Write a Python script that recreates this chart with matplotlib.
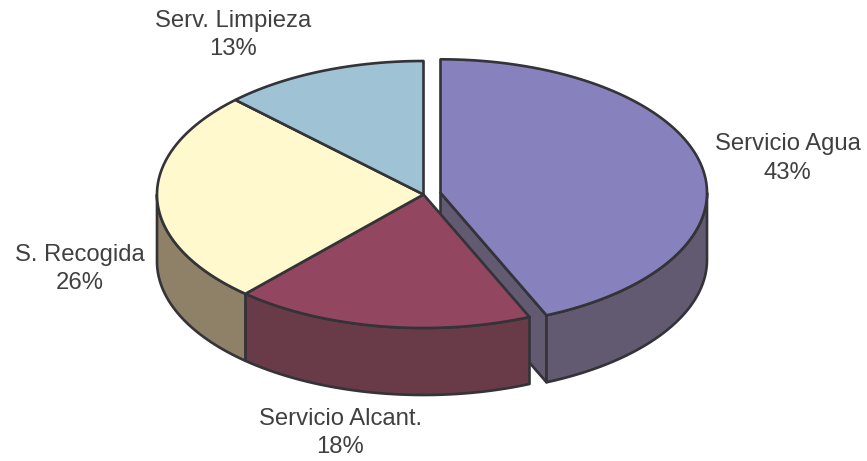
import numpy as np
import matplotlib
matplotlib.use('Agg')
import matplotlib.pyplot as plt
from matplotlib.patches import Polygon

categories = ['Servicio Agua', 'Servicio Alcant.', 'S. Recogida', 'Serv. Limpieza']
percent_labels = ['43%', '18%', '26%', '13%']
values = [43.49, 18.16, 25.88, 12.47]
explode = [17, 0, 0, 0]
top_colours = ['#8781BD', '#924660', '#FFF9CD', '#9FC3D4']
side_colours = ['#625A70', '#693A48', '#8F8068', '#6F8894']
label_pos = [(787.5, 158.5), (340.5, 433), (79.5, 269), (233, 35)]

plt.rcParams['font.family'] = ['Liberation Sans', 'DejaVu Sans']

cx, cy = 423.5, 194.5
rx, ry = 266.5, 133.5
depth = 67
edge = '#333338'
lw = 1.9


def rim(c, t0, t1, dy=0):
    t = np.radians(np.linspace(t0, t1, 200))
    return np.column_stack([c[0] + rx * np.sin(t), c[1] - ry * np.cos(t) + dy])


def poly(ax, pts, colour, z):
    ax.add_patch(Polygon(pts, closed=True, facecolor=colour, edgecolor=edge,
                         linewidth=lw, joinstyle='round', zorder=z))


fig = plt.figure(figsize=(8.67, 4.61), dpi=100)
ax = fig.add_axes([0, 0, 1, 1])
ax.set_xlim(0, 867)
ax.set_ylim(461, 0)
ax.axis('off')

ends = np.cumsum(values) / sum(values) * 360
starts = np.concatenate([[0], ends[:-1]])

for i in range(len(values)):
    c = (cx + explode[i], cy - explode[i] * 0.1)
    t0, t1 = starts[i], ends[i]

    # cut face of the pulled out slice
    if explode[i] > 0:
        p = rim(c, t1, t1)[0]
        poly(ax, [c, p, (p[0], p[1] + depth), (c[0], c[1] + depth)], side_colours[i], 1)

    # outer wall, only the front half shows
    a, b = max(t0, 90), min(t1, 270)
    if a < b:
        front = rim(c, a, b)
        back = rim(c, b, a, depth)
        poly(ax, np.vstack([front, back]), side_colours[i], 2)

    # top of the slice
    z = 4 if explode[i] > 0 else 3
    poly(ax, np.vstack([[c], rim(c, t0, t1)]), top_colours[i], z)

    ax.text(label_pos[i][0], label_pos[i][1], f'{categories[i]}\n{percent_labels[i]}', ha='center',
            va='center', fontsize=17.2, color='#404040', linespacing=1.36, zorder=5)

plt.savefig('out.png', dpi=100)
